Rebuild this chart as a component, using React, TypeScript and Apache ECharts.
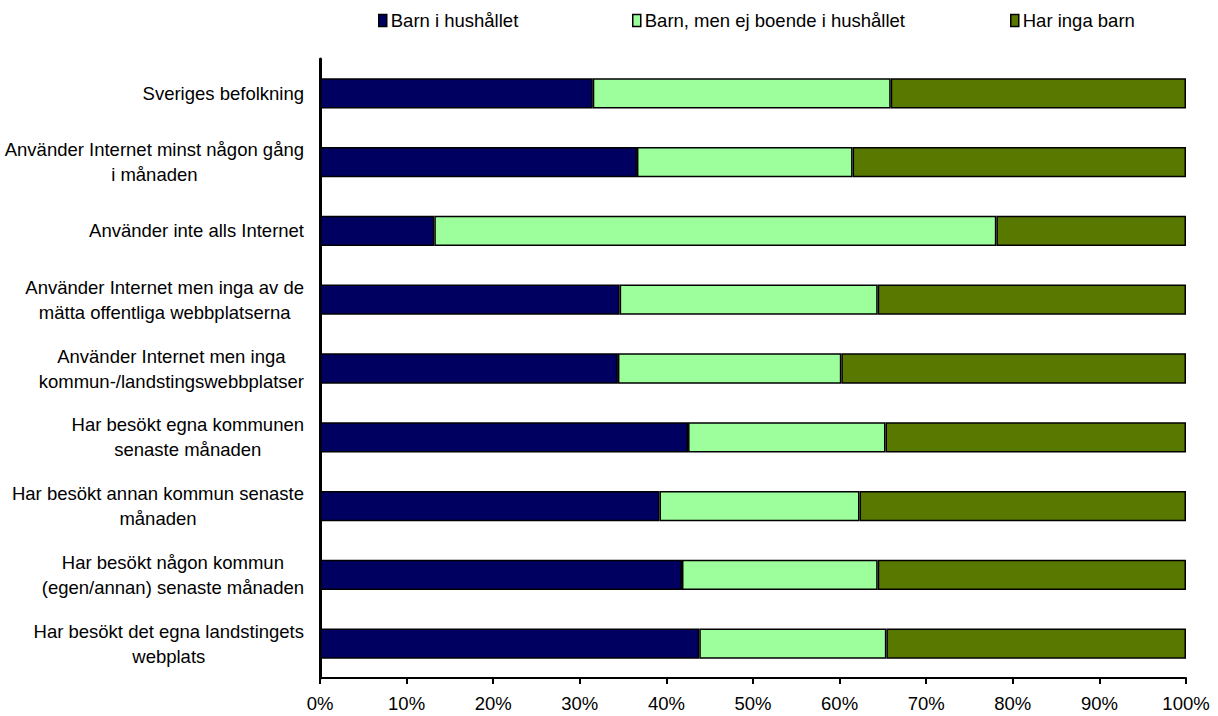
import React, { useEffect, useRef } from "react";
import * as echarts from "echarts";

const categories = [
  "Sveriges befolkning",
  "Använder Internet minst någon gång\ni månaden",
  "Använder inte alls Internet",
  "Använder Internet men inga av de\nmätta offentliga webbplatserna",
  "Använder Internet men inga\nkommun-/landstingswebbplatser",
  "Har besökt egna kommunen\nsenaste månaden",
  "Har besökt annan kommun senaste\nmånaden",
  "Har besökt någon kommun\n(egen/annan) senaste månaden",
  "Har besökt det egna landstingets\nwebplats",
];

const seriesNames = ["Barn i hushållet", "Barn, men ej boende i hushållet", "Har inga barn"];

const barnIHushallet = [31.5, 36.6, 13.2, 34.6, 34.4, 42.5, 39.2, 41.8, 43.8];
const barnEjBoende = [34.4, 24.9, 64.9, 29.8, 25.8, 22.8, 23.1, 22.6, 21.6];
const harIngaBarn = [34.1, 38.5, 21.9, 35.6, 39.8, 34.7, 37.7, 35.6, 34.6];

const colors = ["#000060", "#9CFF9C", "#587800"];
const FONT = "'Liberation Sans', Arial, sans-serif";
const FS = 18.5;

export default function App() {
  const ref = useRef<HTMLDivElement>(null);
  useEffect(() => {
    if (!ref.current) return;
    const chart = echarts.init(ref.current, null, { renderer: "svg" });
    const data = [barnIHushallet, barnEjBoende, harIngaBarn];
    const legendLefts = [378, 632, 1010];
    chart.setOption({
      animation: false,
      backgroundColor: "#ffffff",
      textStyle: { fontFamily: FONT },
      legend: seriesNames.map((n, i) => ({
        data: [n],
        left: legendLefts[i],
        top: 11,
        padding: 0,
        icon: "rect",
        itemWidth: 8,
        itemHeight: 12,
        itemGap: 4,
        selectedMode: false,
        itemStyle: { borderColor: "#000", borderWidth: 1.5 },
        textStyle: { fontSize: FS, color: "#000", fontFamily: FONT, padding: [0, 0, 0, -1] },
      })),
      grid: { left: 320, right: 32, top: 59, bottom: 38, containLabel: false },
      xAxis: {
        type: "value",
        min: 0,
        max: 100,
        interval: 10,
        splitLine: { show: false },
        axisLine: { show: true, lineStyle: { color: "#000", width: 2 } },
        axisTick: { show: true, length: 6, lineStyle: { color: "#000", width: 2 } },
        axisLabel: { formatter: "{value}%", fontSize: FS, color: "#000", margin: 16, fontFamily: FONT },
      },
      yAxis: {
        type: "category",
        data: categories,
        inverse: true,
        axisLine: { show: true, lineStyle: { color: "#000", width: 3 } },
        axisTick: { show: false },
        axisLabel: {
          fontSize: FS,
          color: "#000",
          margin: 16,
          lineHeight: 25,
          fontFamily: FONT,
          formatter: (v: string) => v.split("\n").map((l) => `{c|${l}}`).join("\n"),
          rich: { c: { align: "center", fontSize: FS, lineHeight: 25, fontFamily: FONT, color: "#000" } },
        },
      },
      series: seriesNames.map((n, i) => ({
        name: n,
        type: "bar",
        stack: "total",
        barWidth: "44%",
        data: data[i],
        itemStyle: { color: colors[i], borderColor: "#000", borderWidth: 1.5 },
      })),
    });
    return () => chart.dispose();
  }, []);
  return <div ref={ref} style={{ position: "fixed", left: 0, top: 0, width: 1218, height: 716 }} />;
}
